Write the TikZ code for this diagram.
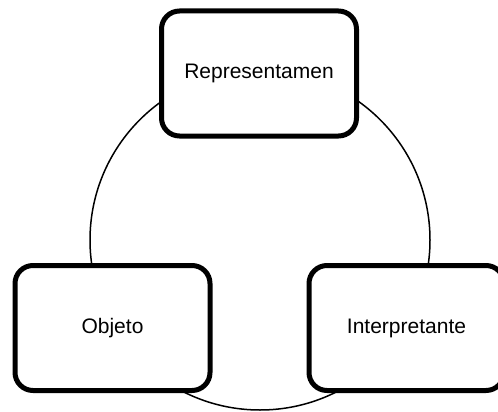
\documentclass[tikz,border=0pt]{standalone}
\usepackage{fontspec}
\setmainfont{Liberation Sans}
\tikzstyle{ring}=[circle,draw,line width=1.5pt,minimum size=340pt,inner sep=0pt]
\tikzstyle{sign}=[rectangle,draw=black,fill=white,line width=5pt,rounded corners=18pt,minimum width=195pt,minimum height=125pt,font=\fontsize{21}{25}\selectfont]

\begin{document}
\begin{tikzpicture}[x=1pt,y=-1pt]

  \useasboundingbox (0,0) rectangle (498,412);

  \node[ring] (cycle) at (260,240) {};

  \foreach \x/\y/\name/\label in {259/73.5/repr/Representamen, 112.5/328/obj/Objeto, 406.5/328/interp/Interpretante}
          \node[sign] (\name) at (\x,\y) {\label};

\end{tikzpicture}
\end{document}
